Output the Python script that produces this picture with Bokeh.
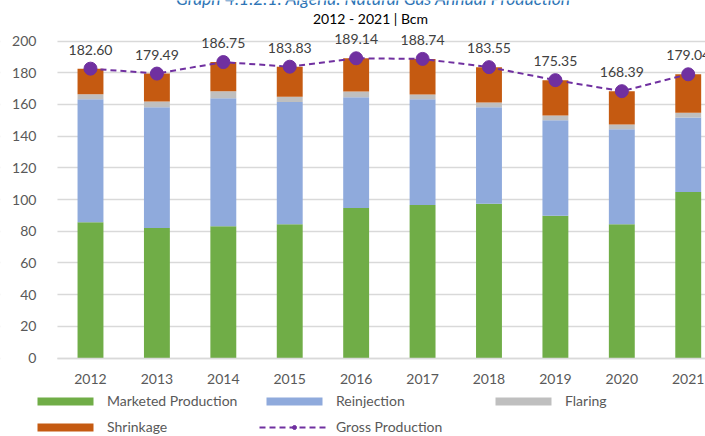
from bokeh.plotting import figure
from bokeh.models import (Range1d, FixedTicker, Legend, LegendItem, Label, ColumnDataSource,
                          BoxAnnotation)
from bokeh.embed import file_html
from bokeh.resources import INLINE
from bokeh.core.properties import value

years = ["2012", "2013", "2014", "2015", "2016", "2017", "2018", "2019", "2020", "2021"]
marketed = [85.7, 82.0, 83.2, 84.5, 94.6, 96.5, 97.3, 89.8, 84.5, 104.7]
reinjection = [77.6, 76.3, 80.8, 77.0, 70.0, 66.8, 61.0, 60.3, 59.9, 47.1]
flaring = [3.2, 3.6, 4.4, 3.3, 3.6, 3.0, 3.0, 3.0, 3.0, 3.0]
shrinkage = [16.1, 17.6, 18.35, 19.0, 20.9, 22.4, 22.25, 22.25, 21.0, 24.2]
gross = [182.60, 179.49, 186.75, 183.83, 189.14, 188.74, 183.55, 175.35, 168.39, 179.04]
y_ticks = [0, 20, 40, 60, 80, 100, 120, 140, 160, 180, 200]

FONT = "Lato"
xs = list(range(len(years)))
src = ColumnDataSource(dict(
    x=xs, marketed=marketed, reinjection=reinjection, flaring=flaring,
    shrinkage=shrinkage, gross=gross, glabel=[f"{g:.2f}" for g in gross]))

X_LEFT = -0.497   # left edge of the plotting area
p = figure(width=705, height=436, output_backend="svg", toolbar_location=None,
           x_range=Range1d(-1.355, 9.26), y_range=Range1d(-49.5, 225.6),
           min_border_left=0, min_border_right=0, min_border_top=0, min_border_bottom=0)
p.outline_line_color = None
p.background_fill_color = "white"
p.border_fill_color = "white"

p.xgrid.visible = False
p.ygrid.grid_line_color = "#D9D9D9"
p.ygrid.grid_line_width = 1.5
p.add_layout(BoxAnnotation(right=X_LEFT, fill_color="white", fill_alpha=1.0,
                           line_color=None, level="underlay"))

stack = ["marketed", "reinjection", "flaring", "shrinkage"]
colors = ["#70AD47", "#8FAADC", "#BFBFBF", "#C55A11"]
bars = p.vbar_stack(stack, x="x", width=0.39, fill_color=colors, line_color=None, source=src)

ln = p.line("x", "gross", source=src, line_color="#7030A0", line_width=2, line_dash="6 4")
sc = p.scatter("x", "gross", source=src, size=13, fill_color="#7030A0", line_color="#7030A0")
p.text("x", "gross", text="glabel", source=src, text_align="center", text_baseline="bottom",
       y_offset=-14, text_font=value(FONT), text_font_size="14px", text_color="#404040")

p.xaxis.ticker = FixedTicker(ticks=xs)
p.xaxis.major_label_overrides = {i: y for i, y in enumerate(years)}
p.xaxis.fixed_location = 0
p.xaxis.bounds = (X_LEFT, 9.26)
p.yaxis.ticker = FixedTicker(ticks=y_ticks)
p.yaxis.fixed_location = X_LEFT
for ax in (p.xaxis, p.yaxis):
    ax.major_tick_line_color = None
    ax.minor_tick_line_color = None
    ax.major_label_text_font = FONT
    ax.major_label_text_font_size = "14px"
    ax.major_label_text_color = "#595959"
p.yaxis.axis_line_color = None
p.yaxis.major_label_standoff = 15
p.xaxis.axis_line_color = "#D9D9D9"
p.xaxis.axis_line_width = 1.5
p.xaxis.major_label_standoff = 10

p.add_layout(Label(x=373, y=438.5, x_units="screen", y_units="screen",
                   text="Graph 4.1.2.1: Algeria: Natural Gas Annual Production",
                   text_align="center", text_baseline="alphabetic",
                   text_font=FONT, text_font_style="italic", text_font_size="17.5px",
                   text_color="#2E75B6"))
p.add_layout(Label(x=370, y=418.5, x_units="screen", y_units="screen",
                   text="2012 - 2021 | Bcm", text_align="center", text_baseline="middle",
                   text_font=FONT, text_font_size="14px", text_color="#000000"))

items = [
    LegendItem(label="Marketed Production", renderers=[bars[0]]),
    LegendItem(label="Reinjection", renderers=[bars[1]]),
    LegendItem(label="Flaring", renderers=[bars[2]]),
    LegendItem(label="Shrinkage", renderers=[bars[3]]),
    LegendItem(label="Gross Production", renderers=[ln, sc]),
]
legend = Legend(items=items, location=(30, 0), orientation="horizontal", ncols=3,
                glyph_width=70, glyph_height=10, label_standoff=7, label_width=145,
                label_height=19, spacing=7, padding=0, margin=0,
                border_line_color=None, background_fill_alpha=0,
                label_text_font=FONT, label_text_font_size="14px", label_text_color="#595959")
p.add_layout(legend)

open("out.html", "w").write(file_html(p, INLINE))
